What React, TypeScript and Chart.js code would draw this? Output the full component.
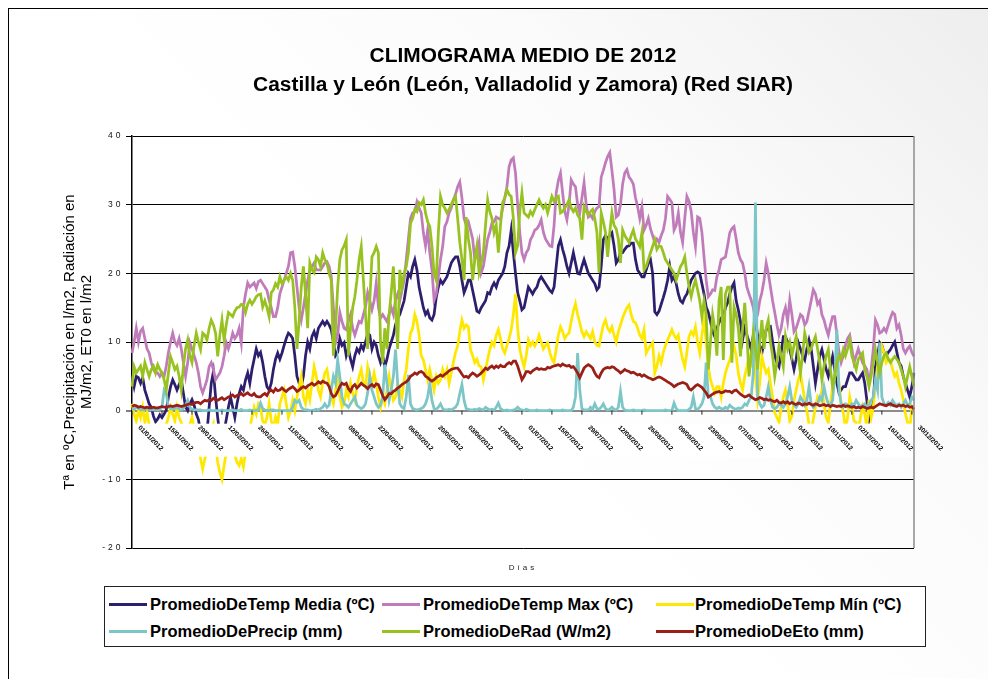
import React, { useEffect, useRef } from 'react';
import { Chart, registerables } from 'chart.js';

Chart.register(...registerables);

const FONT = "'Liberation Sans', Arial, Helvetica, sans-serif";

// Calendar of 2012 (category axis)
const YEAR = 2012;
const monthLengths = [31, 29, 31, 30, 31, 30, 31, 31, 30, 31, 30, 31];
const days: string[] = [];
monthLengths.forEach((n, m) => {
  for (let d = 1; d <= n; d++) {
    days.push(`${String(d).padStart(2, '0')}/${String(m + 1).padStart(2, '0')}/${YEAR}`);
  }
});

const tickLabels = [
  '01/01/2012', '15/01/2012', '29/01/2012', '12/02/2012', '26/02/2012', '11/03/2012', '25/03/2012',
  '08/04/2012', '22/04/2012', '06/05/2012', '20/05/2012', '03/06/2012', '17/06/2012', '01/07/2012',
  '15/07/2012', '29/07/2012', '12/08/2012', '26/08/2012', '09/09/2012', '23/09/2012', '07/10/2012',
  '21/10/2012', '04/11/2012', '18/11/2012', '02/12/2012', '16/12/2012', '30/12/2012',
];

const yTicks = [-20, -10, 0, 10, 20, 30, 40];

const tempMedia = [
  5, 3.5, 5, 4.8, 4, 4.8, 3, 2, 1, 0.5, -0.8, -1.6, -1.2, -0.6, -1, -0.5, 0.1, 2, 3.5, 4.5, 3.8, 3, 3.8, 4.5, 2.5, 0.5, 0, 1, 1.6, 0.8, -0.5,
  -1.3, -3, -5, -4, -3.2, 0.5, 4, 5.7, 2, -1, -3.5, -5.3, -3, -1.3, 0.5, 2, 0.5, -1, 1, 2.5, 3.5, 3, 4.5, 5.5, 4, 6, 7.5, 9, 8,
  8.5, 7, 5, 3.5, 3, 4, 6, 7.5, 8.4, 7.5, 8.4, 9.5, 10.5, 11.3, 11, 10.5, 8, 5, 4, 3.5, 5, 8, 10, 9, 10.8, 11.5, 10.5, 12, 12.5, 13, 12.5,
  13, 12.5, 11.8, 10, 8, 8.5, 10.5, 9.5, 9.9, 8, 9, 7.5, 6.4, 8, 9, 8.5, 9.5, 8.9, 10, 11.3, 11, 9, 10, 9.5, 8, 7, 8, 6.4, 7.5, 9,
  10, 11, 12.5, 13.5, 14, 15, 16, 18, 20, 19.5, 21, 22, 20.5, 18, 16.5, 15, 14, 14.5, 13.5, 13.2, 14, 16.5, 18, 19, 18.5, 19, 19.5, 20.5, 21.5, 22, 22.4,
  22.4, 21, 19, 17.2, 18, 19, 19, 17.5, 16, 14.5, 14.3, 15, 15.5, 16, 17.2, 17, 18, 18.6, 18, 19, 19.5, 20, 21, 23, 24, 26.3, 23, 20, 17.2, 16,
  14.7, 15, 16.5, 18, 17.5, 17, 17.6, 18, 19, 19.5, 19, 18.5, 18, 17.5, 17.2, 18, 21, 24, 24.9, 23.5, 22.4, 21, 20, 21.5, 23, 21.5, 20, 19.9, 21, 22, 21,
  20, 19.5, 19, 18.5, 17.6, 18, 21, 24.9, 25.5, 25, 25.5, 25.9, 24, 21.5, 22, 23, 23, 23.5, 23.9, 24, 24.4, 24.4, 22, 20.5, 20, 19.5, 19.5, 20.5, 21.5, 22, 20,
  14.4, 14, 14.5, 15.5, 16.5, 17.6, 19, 21, 19, 19.5, 18.5, 17, 16, 15.7, 16.5, 17, 18, 19, 19.5, 20, 20.2, 20, 18.5, 17, 15.1, 14.3, 13, 11.5, 10.8, 12,
  12.8, 13.5, 13.7, 15, 15.7, 17, 18, 18.6, 16, 14.7, 13, 10.3, 12, 11, 10, 8.9, 11, 13.2, 11, 9.5, 8.4, 10, 11.8, 12, 12.2, 10, 8, 7, 6.4, 8.5, 10.8,
  10.8, 10, 9, 7.5, 6, 7.5, 9.9, 9, 8, 7.4, 9, 10.3, 9, 6.5, 4, 6, 8, 8.9, 7.5, 6, 5, 6.5, 7.9, 6, 4, 2.6, 3, 3.5, 3.5, 4.5,
  5.5, 5.5, 5, 4.5, 4.5, 5, 5.5, 4, 1.5, -1.3, 0, 1.1, 6.4, 8, 9.9, 9.5, 8.5, 8, 8.5, 8.9, 9.5, 10, 8.5, 7, 6.5, 5, 4, 3, 2, 3.5, 5.5,
];

const tempMax = [
  8.4, 10, 12, 10, 11.6, 12, 10.5, 9, 8.4, 7, 6, 5.5, 5.5, 5, 5.5, 5, 6.5, 8.5, 10, 11.3, 10, 9.5, 10.5, 9, 7, 5, 7, 9.9, 9, 8, 7,
  5.5, 3.5, 2.6, 3.5, 4.5, 6.4, 7, 6, 4.5, 5, 5.5, 6.4, 8, 9.9, 9, 10, 11.3, 10.5, 11, 12, 9.9, 15.1, 17, 18.6, 18, 18.3, 18.6, 17.8, 18.8,
  19, 18.5, 18, 17.5, 16.1, 15, 13.7, 13.7, 15, 17, 18, 19, 20, 21, 23, 23.1, 21, 18, 15, 13.2, 15, 17, 19, 20.5, 21, 21.5, 20.5, 20.5, 20.5, 21, 21.5,
  21.7, 21, 19.5, 15, 9.9, 11, 14.3, 13, 12, 11.8, 13, 14, 12, 11, 12, 13, 12.8, 14, 15.1, 17.2, 16, 14.7, 16, 18.6, 15.1, 13.5, 14, 13.5, 13, 14,
  15, 14, 16.1, 17, 16, 17.5, 19, 22, 25, 28, 28.8, 29, 30.4, 29.5, 28.8, 25.9, 24, 26.3, 23, 20.5, 16.1, 17, 19.5, 22, 23.9, 26.8, 27.5, 28.8, 29.5, 30.7, 31.5,
  32.6, 33.3, 31, 28, 27, 27.5, 26.3, 25, 22, 23, 24.5, 20.1, 21, 23, 25, 26, 27.3, 27.5, 28.2, 28, 27.8, 29.5, 31, 32.6, 35.5, 36.5, 36.8, 34.6, 30, 25.9,
  23, 22, 23, 23.5, 24.9, 25.5, 26.3, 26.5, 27, 27.8, 26, 25, 24.5, 24, 23.9, 27, 31.7, 33.5, 34.6, 31.7, 29, 27.8, 30, 33.6, 33, 32.6, 30, 28.8, 31, 33.2, 30,
  28.2, 28.5, 28, 29, 29.5, 29.7, 34, 35, 36.1, 37, 37.6, 35, 32.2, 28.2, 28.5, 30, 33, 34.6, 35.1, 34, 33.6, 33, 31, 29.7, 28, 29.7, 26.3, 27, 28, 26.5, 25.5,
  24.5, 25, 24.5, 25.5, 26.3, 28, 31.2, 30.8, 30.3, 26.3, 27, 28.8, 26, 24.5, 28, 31.2, 30.5, 29, 26, 23.9, 28.2, 28, 26, 22.4, 19, 16.6, 17, 17.6, 17.5, 19.5,
  20.5, 22, 22.2, 22.4, 24, 25.9, 26.5, 26.8, 25, 23, 22, 21.5, 20, 18, 17, 16.1, 15, 13.2, 14, 16, 17.2, 19, 21.5, 20, 18, 16, 14.3, 12.5, 11, 12, 14,
  15, 13, 16.1, 14, 11.5, 12, 13, 14, 13.7, 12.5, 13, 14.5, 16, 17.6, 17, 15.5, 16, 14, 13.2, 12, 11, 12.5, 13.7, 13.7, 11, 8.5, 7, 8, 9.5, 10.5,
  11, 9, 7, 8, 9, 8, 7, 6.5, 6, 4, 6, 9, 13.2, 12.5, 11.3, 11.5, 12, 11.5, 12.5, 13.5, 14.3, 14, 12, 12.5, 11, 9, 8.4, 9, 9.4, 8.5, 7.9,
];

const tempMin = [
  1, -0.5, -1.5, 0, -1, 0.5, -1.7, -0.3, -2, -3, -4, -5, -4, -5, -4.5, -3, -2, -1, 0.5, -0.5, -1.5, 0.5, -1, -1.7, -3, -4, -3.5, -2, -1, -2.5, -4,
  -5, -7, -8.5, -7, -6, -5, -3, -2, -5, -7.5, -9, -10, -8, -6, -5, -4, -5.5, -6.5, -7.5, -8, -7, -8.2, -6, -3.5, -2.5, -1, 0.5, -0.5, 1,
  0.5, -1.5, -2, -1, 1, -1.5, -2.5, -1, -2, 1, 2, 3, 1, -1, 0, 1.5, 0, 2, 3.5, 5, 2, 1, 3, 1.6, 4, 6.4, 5, 3, 2, 4, 5.5,
  6, 4, 2, 1, 3, 5, 2, 0.5, 1, 3, 2, 4, 2.5, 1.5, 3.5, 5, 6, 4, 3.5, 6.4, 5, 4, 5.5, 4, 2, 0.5, 2, 1, 3, 5,
  3, 1.5, 2, 4, 3, 2, 4.5, 6, 9, 11.3, 12, 14, 13, 11, 8, 7.4, 6, 4.5, 6, 4.5, 3, 5, 4, 4.5, 6, 5, 6, 4, 5.5, 7, 8.5,
  9.4, 11.5, 13.2, 12, 12.5, 12.2, 8.9, 8, 7, 7.5, 6.5, 6.4, 4.5, 6, 7.5, 8.9, 10, 9.5, 11, 11.8, 10.5, 9, 8.4, 9.5, 10.5, 11.8, 14, 17, 12, 9,
  7.5, 6.4, 8, 10.3, 9.5, 10, 9.4, 10, 11, 10, 9, 9.5, 9.9, 8.5, 7.5, 7, 9, 11, 12.2, 11.5, 10.5, 11, 11.3, 13, 14.5, 15.6, 14, 12.8, 11.5, 10.8, 11.5,
  11, 10.5, 11.5, 10, 9.5, 9.4, 11, 12.5, 13.2, 12, 11.5, 12.2, 11, 10, 11.5, 12.5, 13.5, 14.3, 15, 15.4, 14, 13, 12.8, 12, 11, 10.5, 11.8, 8.4, 9, 9.5, 9.9,
  5.5, 6.5, 8, 7, 8.5, 9.5, 10.3, 11, 11.8, 11, 10.5, 11, 9, 7.5, 6.4, 8.5, 10.8, 11.5, 11, 12.2, 10, 8.4, 11, 13.2, 10, 6.4, 4.5, 3.5, 2.6, 3.5,
  3.5, 2, 4, 5.5, 6.5, 7.4, 8.5, 9.4, 8, 5.5, 4, 3, 5, 6.4, 8, 7, 8.9, 5, 1.6, 4, 7.9, 6.5, 5.5, 6, 4, 2, -0.3, -1, -1.7, 0.5, 2,
  3, 1, -1.5, -0.8, 1.5, 3, 4.5, 5.5, 3.5, 1.6, 0, -2, -3, -1.3, 0.5, 2, 1.5, 3, 1, -1, -1.7, 1, 3.5, 5, 6.4, 4, 1, -0.3, -2.5, -1,
  2, 0.5, -1.5, -1.7, -3, -1, 0.6, -0.5, -2.5, 1.6, -1, 0.5, 4, 6.5, 8, 9.4, 8.5, 7, 7.5, 7.4, 6, 5, 5.5, 4, 3, 1.6, -0.5, -1.7, -3, 0.6, 0.1,
];

const precip = [
  0.3, 0.2, 0.5, 0.3, 0.2, 0.1, 0.2, 0.3, 0.2, 0.1, 0.1, 0.2, 0.1, 0.2, 0.5, 3, 2.5, 0.5, 0.3, 0.2, 0.3, 0.5, 0.2, 0.1, 0.3, 0.8, 1.5, 0.5, 0.2, 0.1, 0.1,
  0.1, 0.1, 0, 0, 0, 0.1, 0, 0, 0, 0, 0, 0.1, 0, 0, 0, 0, 0.1, 0, 0, 0, 0.2, 0, 0, 0, 0.1, 0, 0, 0, 0.1,
  1.1, 0.3, 0.1, 0, 0, 0.1, 0.1, 0, 0, 0, 0, 0, 0, 0, 0, 0.5, 1.5, 1.2, 1.5, 0.5, 0.2, 0.1, 0.1, 0, 0, 0.1, 0.2, 0.1, 0.3, 0.5, 1,
  0.5, 0.8, 3, 5, 4, 7.4, 5, 2, 1, 0.8, 0.5, 1, 1.5, 2, 0.8, 0.5, 0.3, 0.5, 1, 2.6, 5, 3, 2, 1, 0.5, 0.8, 2, 6.7, 4, 1.5,
  3, 5, 8.9, 4, 1, 0.5, 0.3, 2, 5.2, 1, 0.3, 0.2, 0.1, 0.2, 0.3, 0.5, 1, 2, 4, 1.5, 0.3, 0.2, 0.5, 1, 0.3, 0.1, 0.1, 0.2, 0.1, 0.3, 0.5,
  1, 2.5, 3.8, 1.5, 0.3, 0.2, 0.1, 0.1, 0.2, 0.1, 0.3, 0.2, 0.1, 0.5, 0.3, 0.1, 0.2, 0.1, 0.5, 1.1, 0.3, 0.1, 0, 0.1, 0, 0, 0.1, 0.2, 0.5, 0.2,
  0.1, 0, 0.2, 0.1, 0, 0, 0, 0.1, 0, 0, 0, 0, 0, 0.1, 0, 0, 0, 0, 0, 0.1, 0, 0, 0, 0, 0.5, 2, 8.4, 3, 0.3, 0.1, 0.1,
  0.1, 0.5, 0.2, 1, 0.3, 0.2, 0.5, 1, 0.3, 0.1, 0.2, 0.5, 0.2, 0.1, 0.5, 2.8, 0.5, 0.1, 0, 0, 0, 0.1, 0, 0, 0, 0, 0.1, 0, 0, 0, 0,
  0, 0, 0, 0, 0, 0.1, 0, 0, 0, 1.1, 0.3, 0, 0, 0, 0, 0, 0.2, 0.5, 2, 0.3, 0.2, 0.5, 1, 2, 7, 2, 2, 1, 0.5, 0.3,
  0.5, 0.3, 0.2, 0.5, 0.3, 0.8, 0.5, 0.3, 0.2, 0.4, 0.3, 0.5, 1, 0.8, 1.5, 2, 5.5, 30.3, 2, 1, 0.5, 0.8, 2, 3.5, 1.5, 0.5, 0.3, 0.5, 1, 0.8, 0.5,
  1, 2, 3.5, 1.5, 0.8, 0.5, 1, 2, 1.5, 0.8, 1.5, 3.5, 1, 0.5, 0.8, 1, 2, 1.5, 3.5, 2, 1, 0.8, 1.5, 5, 11.8, 3, 1, 0.5, 1, 0.8,
  0.5, 1, 0.8, 1.5, 1, 0.5, 0.8, 1, 0.5, 0.8, 1.5, 2, 4.5, 3, 9.9, 2, 1, 0.8, 1.2, 0.8, 1.5, 1, 0.8, 1, 0.5, 1, 1.5, 0.8, 1, 2, 1.5,
];

const rad = [
  3.5, 6.4, 5.5, 6, 6.5, 5, 7, 6, 5, 6, 6.5, 5.5, 6.7, 6, 5.5, 4.5, 3, 5.5, 7.9, 7, 6, 6.5, 5, 3, 6.5, 9, 10.3, 8, 7, 9.5, 11.3,
  10, 8.9, 11.3, 11, 10.3, 12, 13.2, 12.5, 11.3, 7.9, 11, 13.2, 10.3, 12.5, 14.3, 14, 13.7, 14.5, 15, 15.1, 15.5, 15.4, 14.3, 15.5, 16.1, 15.5, 16, 16.6, 16.9,
  17, 15.1, 16, 15, 13.7, 17.2, 17.6, 18.5, 18, 19.5, 18.5, 19, 19.5, 19, 20, 19, 15.1, 9, 13, 18, 21, 17, 12, 21.5, 20.5, 20.1, 22.4, 22, 21, 23, 22,
  21.5, 20, 19, 8, 12, 18, 22, 23.4, 24, 24.9, 8, 12, 15, 16.6, 19, 22, 23.9, 19, 14, 9, 16, 22.4, 23, 23.9, 23, 10, 7, 12, 9, 14,
  17.2, 21, 15, 9, 20.5, 18, 20, 21, 23, 27.3, 28, 29.3, 29, 30.3, 30, 30.7, 28.8, 27.5, 26.8, 24, 20, 19, 26, 31.2, 30, 29.5, 28.8, 29.3, 30, 30.7, 31.2,
  28, 24.5, 22, 19, 28.2, 25, 23, 19, 22, 24, 20.1, 21.5, 23, 27, 30.7, 29, 28, 25.9, 27, 23, 27, 30.3, 31, 32.2, 31.5, 31.2, 28, 23, 24, 29,
  31.7, 28.8, 28.5, 28.2, 29, 28.5, 29.3, 30, 30.7, 30, 29.5, 30, 28.8, 30, 31.2, 30.5, 31, 31.2, 28.8, 29, 29.5, 30, 30.7, 29.5, 29, 29.5, 28.5, 28, 24.9, 29.7, 29,
  28.5, 29, 29.3, 28, 26, 20.1, 28.8, 27.5, 26, 22.4, 26, 28.8, 27, 26.5, 25, 21.5, 26.3, 25.5, 25, 24.5, 25.5, 26.3, 25, 24.5, 23.9, 25.9, 20.5, 21, 22, 23, 23.9,
  24.9, 23.5, 24, 23.9, 23, 22, 21.5, 21, 20.5, 20, 19, 20, 21, 21.5, 22.4, 20, 18, 16.6, 18, 19, 17.6, 16, 13.7, 16, 14, 6, 10, 14, 12, 8,
  16, 18, 7.4, 17, 18, 18, 7, 15.1, 14, 12, 7.9, 12, 15.7, 11, 5, 8, 11.3, 9, 6, 10, 13.2, 9, 12, 13.2, 10, 8, 5, 7, 9.4, 8, 6.4,
  10.8, 9, 10, 8, 9.5, 10.8, 8, 5.5, 8, 11.3, 10, 8.5, 9, 10, 10.8, 9, 7, 4.5, 6.5, 8, 8.9, 6, 3.5, 5, 7, 8, 7.5, 8.9, 8, 9,
  10.3, 8, 7, 6, 7.5, 8, 8.4, 6, 5, 3.5, 5, 7, 8.9, 7, 5.5, 7, 8, 8.4, 7.5, 7, 7.5, 7.9, 7.5, 7, 6, 5, 3.5, 5, 6.4, 5, 3.5,
];

const eto = [
  0.6, 0.8, 0.7, 0.5, 0.6, 0.5, 0.4, 0.5, 0.4, 0.4, 0.5, 0.4, 0.4, 0.5, 0.6, 0.5, 0.5, 0.6, 0.7, 0.6, 0.7, 0.8, 0.7, 0.6, 0.7, 0.8, 0.9, 1, 0.9, 1.1, 1.2,
  1.2, 1, 1.3, 1.5, 1.4, 1.6, 1.5, 1.8, 1.6, 1.5, 1.7, 1.9, 1.6, 1.8, 2, 2.1, 2.3, 2, 2.2, 2.3, 2.5, 2.2, 2.4, 2.6, 2.3, 2.2, 2.5, 2.1, 2,
  2, 2.3, 2.5, 2.2, 2.8, 3, 2.7, 3.2, 2.9, 3, 3.3, 3, 2.8, 3.1, 3.3, 3.5, 3.2, 2.8, 3, 3.3, 3.5, 3.3, 3.6, 3.8, 4, 3.7, 3.9, 4.2, 4, 4.3, 4.1,
  4, 3.5, 2.5, 2, 2.2, 2.8, 3.5, 4, 3.8, 4, 3.2, 2.8, 3.5, 3.8, 3.3, 3.6, 4, 3.7, 3.5, 3.2, 3.6, 3.8, 3.5, 3.9, 3.8, 3, 2.2, 1.6, 2, 2.5,
  2.5, 2.8, 3, 3.3, 3.5, 3.8, 4, 4.2, 4.5, 5, 5.2, 5.5, 5.3, 5.6, 5.7, 5.5, 5, 4.8, 4.5, 4.3, 4.5, 4.8, 5, 5.2, 5, 5.3, 5.5, 5.8, 6, 6.1, 6.2,
  6.2, 5.8, 5.3, 4.9, 5, 4.8, 5.2, 5.5, 5.3, 5, 5.2, 5.5, 5.8, 6.2, 6, 6.3, 6.5, 6.2, 6.5, 6.3, 6.6, 6.4, 6.4, 6.8, 7, 6.8, 7.2, 7.2, 6.5, 5.5,
  4.5, 5, 5.7, 5.7, 5.5, 5.8, 6, 6.2, 6, 6.1, 6, 6, 6.3, 6.2, 6.4, 6.5, 6.6, 6.7, 6.5, 6.8, 6.6, 6.5, 6.6, 6.3, 6.4, 6, 5.5, 4.8, 5.5, 6.2, 6.5,
  6.7, 6.5, 6.2, 5.5, 5, 4.8, 5.5, 6, 6.2, 6.3, 6.2, 6.4, 6.3, 6, 5.8, 5.5, 5.7, 6, 5.8, 5.7, 5.5, 5.6, 5.4, 5.2, 5.3, 5, 5.2, 5, 4.8, 4.7, 4.5,
  4.6, 4.8, 4.9, 4.8, 4.6, 4.4, 4.2, 4, 3.8, 3.5, 3.7, 3.9, 4, 4.1, 4, 3.8, 3.2, 3, 3.3, 3.6, 3.8, 3.6, 3.4, 3, 2.6, 2, 2.2, 2.4, 2.6, 2.7,
  2.8, 2.6, 2.7, 2.9, 2.8, 2.8, 2.6, 2.9, 3, 2.7, 2.4, 2.2, 2, 2.1, 2.3, 2, 1.8, 1.6, 1.7, 1.9, 1.8, 1.6, 1.7, 1.5, 1.6, 1.4, 1.3, 1.5, 1.2, 1.1, 1.3,
  1.1, 1.3, 1, 1.2, 1, 0.9, 1.1, 1, 0.8, 1, 0.9, 1.1, 0.9, 0.8, 1, 0.9, 0.7, 0.8, 0.9, 0.7, 0.8, 0.6, 0.8, 0.7, 0.6, 0.7, 0.6, 0.8, 0.6, 0.7,
  0.6, 0.5, 0.6, 0.4, 0.5, 0.4, 0.6, 0.5, 0.3, 0.4, 0.5, 0.4, 0.6, 0.8, 1, 0.9, 0.8, 0.7, 0.9, 1, 0.8, 0.7, 0.6, 0.8, 0.7, 0.8, 0.6, 0.7, 0.5, 0.6, 0.2,
];

const seriesNames = [
  'PromedioDeTemp Media (ºC)',
  'PromedioDeTemp Max (ºC)',
  'PromedioDeTemp Mín (ºC)',
  'PromedioDePrecip (mm)',
  'PromedioDeRad (W/m2)',
  'PromedioDeEto (mm)',
];
const seriesData = [tempMedia, tempMax, tempMin, precip, rad, eto];
const seriesColors = ['#2e1f6e', '#c07cba', '#ffe800', '#7cc6c8', '#97c21f', '#9a1f17'];

const titleLines = ['CLIMOGRAMA MEDIO DE 2012', 'Castilla y León (León, Valladolid y Zamora) (Red SIAR)'];
const yTitle = ['Tª en ºC,Precipitación en l/m2, Radiación en', 'MJ/m2, ET0 en l/m2'];
const xTitle = 'Días';

const decorPlugin = {
  id: 'decor',
  afterDatasetsDraw(chart: any) {
    const { ctx, chartArea: a, scales } = chart;
    const xs = scales.x;
    const ys = scales.y;
    const y0 = ys.getPixelForValue(0);
    ctx.save();
    // opaque label band under the category axis
    ctx.fillStyle = '#ffffff';
    ctx.fillRect(a.left + 1, y0 + 13, a.right - a.left - 2, 33);
    // right frame of plot area
    ctx.strokeStyle = '#8c8c8c';
    ctx.lineWidth = 1.5;
    ctx.beginPath();
    ctx.moveTo(a.right, a.top);
    ctx.lineTo(a.right, a.bottom);
    ctx.stroke();
    // category ticks & rotated date labels
    ctx.strokeStyle = '#222';
    ctx.lineWidth = 1;
    ctx.fillStyle = '#000';
    ctx.font = `bold 6.5px ${FONT}`;
    ctx.textAlign = 'left';
    ctx.textBaseline = 'middle';
    tickLabels.forEach((lab) => {
      const idx = days.indexOf(lab);
      if (idx < 0) return;
      const px = xs.getPixelForValue(idx);
      ctx.beginPath();
      ctx.moveTo(px, y0);
      ctx.lineTo(px, y0 + 4);
      ctx.stroke();
      ctx.save();
      ctx.translate(px + 7, y0 + 16);
      ctx.rotate(Math.PI / 4);
      ctx.fillText(lab, 0, 0);
      ctx.restore();
    });
    ctx.restore();
    ctx.letterSpacing = '3px';
  },
  afterDraw(chart: any) {
    chart.ctx.letterSpacing = '0px';
  },
};

export default function App() {
  const canvasRef = useRef<HTMLCanvasElement | null>(null);

  useEffect(() => {
    document.documentElement.style.overflow = 'hidden';
    document.body.style.overflow = 'hidden';
    const canvas = canvasRef.current;
    if (!canvas) return;
    const chart = new Chart(canvas, {
      type: 'line',
      data: {
        labels: days,
        datasets: seriesNames.map((name, i) => ({
          label: name,
          data: seriesData[i],
          borderColor: seriesColors[i],
          backgroundColor: seriesColors[i],
          borderWidth: 2.75,
          pointRadius: 0,
          pointHoverRadius: 0,
          tension: 0,
          fill: false,
          order: seriesNames.length - 1 - i,
        })),
      },
      options: {
        responsive: false,
        maintainAspectRatio: false,
        animation: false,
        events: [],
        layout: { padding: { left: 40, right: 74, top: 127, bottom: 106 } },
        plugins: {
          legend: { display: false },
          title: { display: false },
          tooltip: { enabled: false },
        },
        scales: {
          x: {
            type: 'category',
            offset: false,
            grid: { display: false, z: 1 },
            border: { display: false },
            ticks: { display: false },
            title: {
              display: true,
              text: xTitle,
              font: { family: FONT, size: 8 },
              color: '#222',
              padding: 0,
            },
            afterFit: (s: any) => {
              s.height = 25;
            },
          },
          y: {
            min: yTicks[0],
            max: yTicks[yTicks.length - 1],
            afterBuildTicks: (s: any) => {
              s.ticks = yTicks.map((v) => ({ value: v }));
            },
            ticks: {
              font: { family: FONT, size: 8.5 },
              color: '#111',
              padding: 2.5,
              z: 1,
            },
            grid: {
              color: (c: any) => (c.tick && c.tick.value === 0 ? '#8c8c8c' : '#000'),
              lineWidth: (c: any) => (c.tick && c.tick.value === 0 ? 2 : 1),
              tickColor: '#000',
              tickWidth: 1,
              tickLength: 6,
              drawTicks: true,
            },
            border: { color: '#000', width: 1.5 },
            title: {
              display: true,
              text: yTitle,
              font: { family: FONT, size: 15, lineHeight: 1.15 },
              color: '#000',
              padding: { top: 12, bottom: 0 },
            },
            afterFit: (s: any) => {
              s.width = 83;
            },
          },
        },
      },
      plugins: [decorPlugin],
    } as any);
    return () => chart.destroy();
  }, []);

  const colSample = [4, 277, 551];
  const colText = [45, 318, 590];
  const rowY = [17, 44];

  return (
    <div
      style={{
        position: 'fixed',
        left: 8,
        top: 8,
        width: 980,
        height: 671,
        boxSizing: 'border-box',
        borderTop: '1px solid #000',
        borderLeft: '1px solid #000',
        background: 'linear-gradient(225deg, #eeeeee 0%, #fbfbfb 30%, #ffffff 55%)',
        fontFamily: FONT,
        overflow: 'hidden',
      }}
    >
      <canvas
        ref={canvasRef}
        width={979}
        height={670}
        style={{ position: 'absolute', left: 0, top: 0, width: 979, height: 670 }}
      />
      <div
        style={{
          position: 'absolute',
          left: 114,
          top: 31,
          width: 800,
          textAlign: 'center',
          fontWeight: 'bold',
          fontSize: 20.9,
          lineHeight: '29px',
          color: '#000',
        }}
      >
        {titleLines.map((t, i) => (
          <div key={i}>{t}</div>
        ))}
      </div>
      <div
        style={{
          position: 'absolute',
          left: 95,
          top: 577,
          width: 822,
          height: 61,
          boxSizing: 'border-box',
          border: '1px solid #222',
          background: '#fff',
        }}
      >
        {seriesNames.map((name, i) => {
          const row = Math.floor(i / 3);
          const col = i % 3;
          return (
            <React.Fragment key={name}>
              <div
                style={{
                  position: 'absolute',
                  left: colSample[col],
                  top: rowY[row] - 1.5,
                  width: 38,
                  height: 3,
                  background: seriesColors[i],
                }}
              />
              <div
                style={{
                  position: 'absolute',
                  left: colText[col],
                  top: rowY[row] - 10,
                  height: 20,
                  lineHeight: '20px',
                  fontSize: 16.5,
                  fontWeight: 'bold',
                  whiteSpace: 'nowrap',
                  color: '#000',
                }}
              >
                {name}
              </div>
            </React.Fragment>
          );
        })}
      </div>
    </div>
  );
}
